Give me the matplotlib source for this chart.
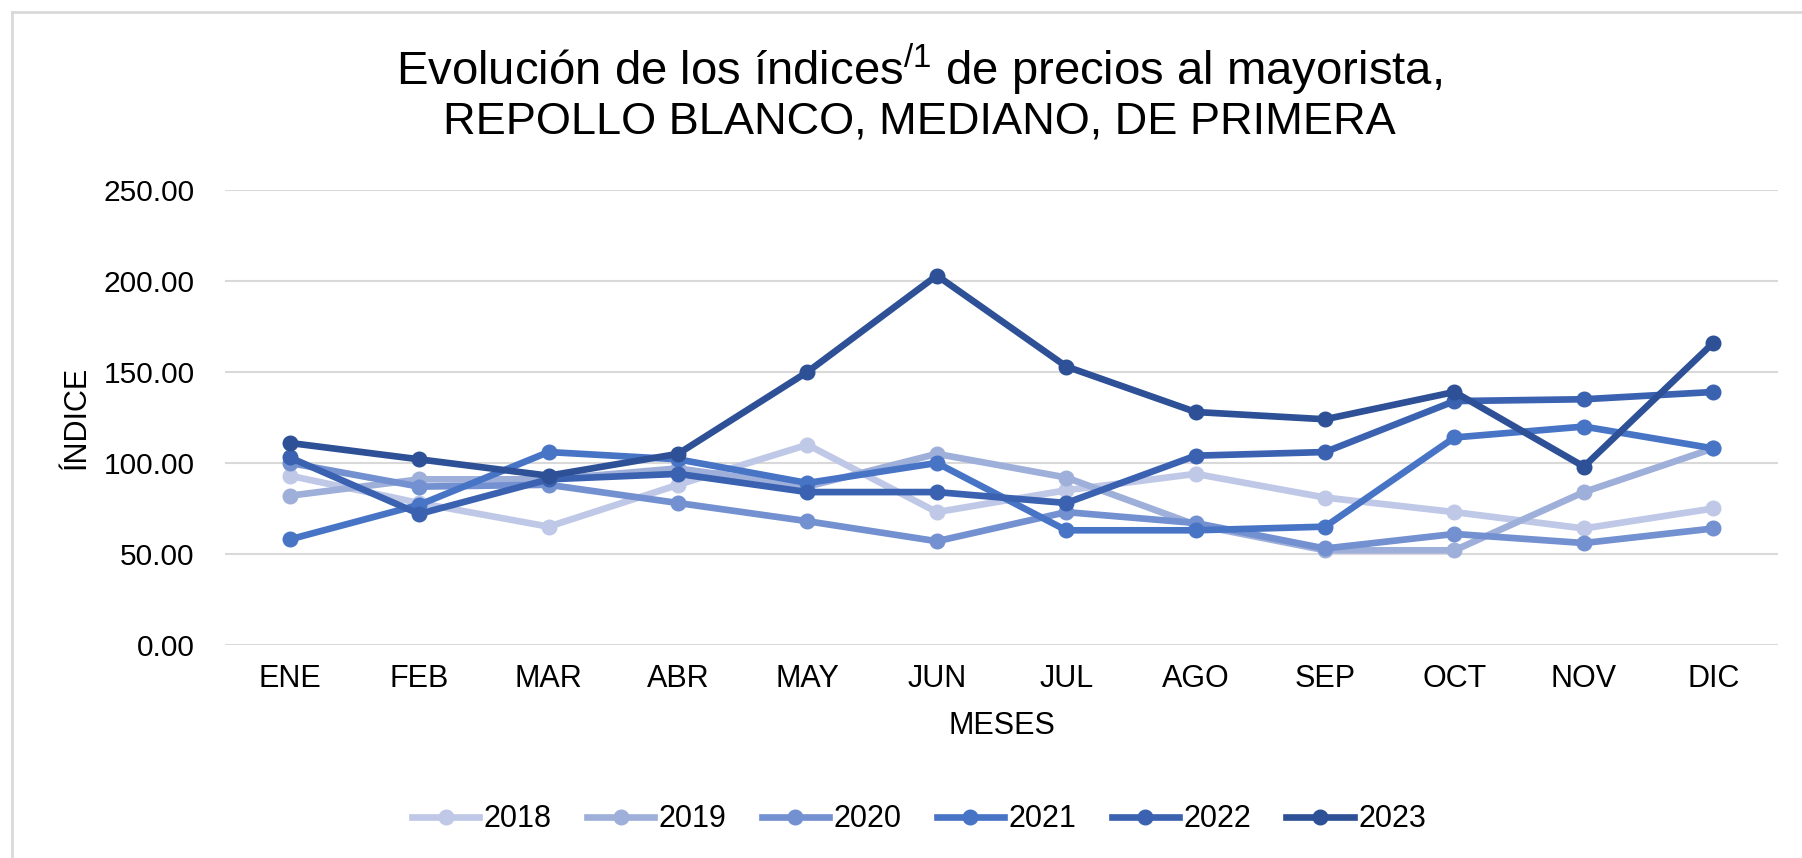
import numpy as np
import matplotlib
matplotlib.use("Agg")
import matplotlib.pyplot as plt
from matplotlib.lines import Line2D

plt.rcParams["font.family"] = ["Liberation Sans", "DejaVu Sans"]
plt.rcParams["mathtext.fontset"] = "custom"
plt.rcParams["mathtext.rm"] = "Liberation Sans"
plt.rcParams["mathtext.it"] = "Liberation Sans"

# ---------------------------
# DATA
# ---------------------------
meses = ["ENE", "FEB", "MAR", "ABR", "MAY", "JUN", "JUL", "AGO", "SEP", "OCT", "NOV", "DIC"]
years = ["2018", "2019", "2020", "2021", "2022", "2023"]

v2018 = [93, 78, 65, 88, 110, 73, 85, 94, 81, 73, 64, 75]
v2019 = [82, 91, 91, 97, 87, 105, 92, 66, 52, 52, 84, 108]
v2020 = [100, 87, 88, 78, 68, 57, 73, 67, 53, 61, 56, 64]
v2021 = [58, 77, 106, 102, 89, 100, 63, 63, 65, 114, 120, 108]
v2022 = [103, 72, 91, 94, 84, 84, 78, 104, 106, 134, 135, 139]
v2023 = [111, 102, 93, 105, 150, 203, 153, 128, 124, 139, 98, 166]

series = [v2018, v2019, v2020, v2021, v2022, v2023]
colors = ["#BFC8E6", "#9EAFD9", "#7390D0", "#4874C6", "#3A62B0", "#2D5096"]

# ---------------------------
# PLOT
# ---------------------------
fig = plt.figure(figsize=(18.02, 8.58), dpi=100)
ax = fig.add_axes([0.1249, 0.2483, 0.8618, 0.5303])

x = np.arange(len(meses))
for vals, col, yr in zip(series, colors, years):
    ax.plot(x, vals, color=col, linewidth=4.8, marker="o", markersize=10.5,
            solid_capstyle="round", solid_joinstyle="round", label=yr)

ax.set_xlim(-0.5, len(meses) - 0.5)
ax.set_ylim(0, 250)
ax.set_yticks(np.arange(0, 251, 50))
ax.set_yticklabels([f"{v:.2f}" for v in np.arange(0, 251, 50)])
ax.set_xticks(x)
ax.set_xticklabels(meses)
ax.tick_params(axis="x", length=0, labelsize=22, colors="#000000", pad=14)
ax.tick_params(axis="y", length=0, labelsize=21.5, colors="#000000", pad=22)

ax.grid(axis="y", color="#D9D9D9", linewidth=1.5)
ax.set_axisbelow(True)
for s in ax.spines.values():
    s.set_visible(False)

ax.set_xlabel("MESES", fontsize=22, labelpad=12)
ax.set_ylabel("ÍNDICE", fontsize=22, labelpad=8)

# title with superscript
fig.text(0.51, 0.919, r"Evolución de los índices$^{/1}$ de precios al mayorista,",
         ha="center", va="center", fontsize=34)
fig.text(0.51, 0.858, "REPOLLO BLANCO, MEDIANO, DE PRIMERA",
         ha="center", va="center", fontsize=32.5)

# legend
handles = [Line2D([0], [0], color=c, linewidth=4.8, marker="o", markersize=10.5)
           for c in colors]
fig.legend(handles, years, loc="center", bbox_to_anchor=(0.51, 0.045), ncol=6,
           frameon=False, fontsize=22, handlelength=2.2, columnspacing=1.15,
           handletextpad=0.15)

# chart border (left and top)
fig.add_artist(Line2D([12 / 1802, 12 / 1802], [0, 1 - 12 / 858], color="#D9D9D9",
                      linewidth=2, transform=fig.transFigure))
fig.add_artist(Line2D([12 / 1802, 1], [1 - 12 / 858, 1 - 12 / 858], color="#D9D9D9",
                      linewidth=2, transform=fig.transFigure))

fig.savefig("out.png", dpi=100, facecolor="white")
plt.close()
